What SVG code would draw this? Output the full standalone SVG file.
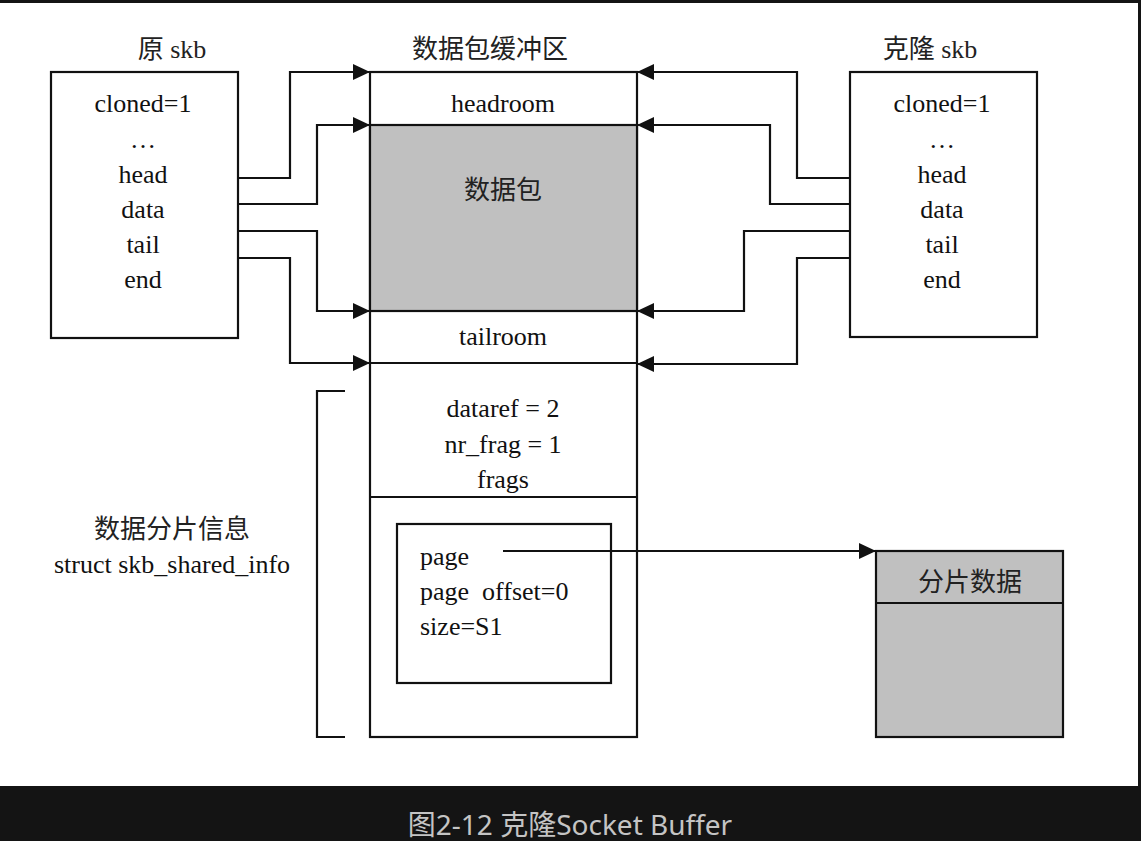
<svg xmlns="http://www.w3.org/2000/svg" width="1141" height="841" viewBox="0 0 1141 841">
  <style>
    .box { fill: #ffffff; stroke: #111; stroke-width: 2.2; }
    .gray { fill: #c0c0c0; stroke: #111; stroke-width: 2.2; }
    .ln { fill: none; stroke: #111; stroke-width: 2.2; }
    .t { font-family: "Liberation Serif", "Noto Sans CJK SC", serif; font-size: 26px; fill: #111; }
    .c { text-anchor: middle; }
    .cjk { font-family: "Liberation Serif", "Noto Sans CJK SC", sans-serif; font-size: 26px; fill: #222; }
    .cap { font-family: "Noto Sans", "Noto Sans CJK SC", sans-serif; font-size: 28px; fill: #c4c4c4; text-anchor: middle; }
  </style>
  <defs>
    <marker id="arr" markerUnits="userSpaceOnUse" markerWidth="17" markerHeight="16" refX="17" refY="8" orient="auto">
      <path d="M0,0 L17,8 L0,16 z" fill="#111"/>
    </marker>
  </defs>

  <rect x="0" y="0" width="1141" height="841" fill="#141414"/>
  <rect x="0" y="3" width="1138" height="783" fill="#ffffff"/>

  <g id="orig-skb">
    <text class="cjk c" x="172" y="58">原 skb</text>
    <rect class="box" x="51" y="72" width="187" height="266"/>
    <text class="t c" x="143" y="112">cloned=1</text>
    <text class="t c" x="143" y="148">…</text>
    <text class="t c" x="143" y="183">head</text>
    <text class="t c" x="143" y="218">data</text>
    <text class="t c" x="143" y="253">tail</text>
    <text class="t c" x="143" y="288">end</text>
  </g>

  <g id="buffer">
    <text class="cjk c" x="490" y="58">数据包缓冲区</text>
    <rect class="box" x="370" y="72" width="267" height="665"/>
    <rect class="gray" x="370" y="125" width="267" height="186"/>
    <line class="ln" x1="370" y1="363" x2="637" y2="363"/>
    <line class="ln" x1="370" y1="497" x2="637" y2="497"/>
    <text class="t c" x="503" y="112">headroom</text>
    <text class="cjk c" x="503" y="199">数据包</text>
    <text class="t c" x="503" y="345">tailroom</text>
    <text class="t c" x="503" y="417">dataref = 2</text>
    <text class="t c" x="503" y="453">nr_frag = 1</text>
    <text class="t c" x="503" y="488">frags</text>
  </g>

  <g id="frag-entry">
    <rect class="box" x="397" y="524" width="214" height="159"/>
    <text class="t" x="420" y="565">page</text>
    <text class="t" x="420" y="600" xml:space="preserve">page  offset=0</text>
    <text class="t" x="420" y="635">size=S1</text>
  </g>

  <g id="clone-skb">
    <text class="cjk c" x="930" y="58">克隆 skb</text>
    <rect class="box" x="850" y="72" width="187" height="265"/>
    <text class="t c" x="942" y="112">cloned=1</text>
    <text class="t c" x="942" y="148">…</text>
    <text class="t c" x="942" y="183">head</text>
    <text class="t c" x="942" y="218">data</text>
    <text class="t c" x="942" y="253">tail</text>
    <text class="t c" x="942" y="288">end</text>
  </g>

  <g id="shared-info-label">
    <path class="ln" d="M345,391 H317 V737 H345"/>
    <text class="cjk c" x="172" y="538">数据分片信息</text>
    <text class="t c" x="172" y="573">struct skb_shared_info</text>
  </g>

  <g id="frag-data">
    <rect class="gray" x="876" y="551" width="187" height="186"/>
    <line class="ln" x1="876" y1="603" x2="1063" y2="603"/>
    <text class="cjk c" x="970" y="591">分片数据</text>
  </g>

  <g id="connectors">
    <path class="ln" marker-end="url(#arr)" d="M238,178 H290 V72 H370"/>
    <path class="ln" marker-end="url(#arr)" d="M238,204 H317 V125 H370"/>
    <path class="ln" marker-end="url(#arr)" d="M238,231 H317 V311 H370"/>
    <path class="ln" marker-end="url(#arr)" d="M238,258 H290 V363 H370"/>
    <path class="ln" marker-end="url(#arr)" d="M850,178 H797 V72 H637"/>
    <path class="ln" marker-end="url(#arr)" d="M850,204 H770 V125 H637"/>
    <path class="ln" marker-end="url(#arr)" d="M850,231 H744 V311 H637"/>
    <path class="ln" marker-end="url(#arr)" d="M850,258 H797 V364 H637"/>
    <path class="ln" marker-end="url(#arr)" d="M503,551 H876"/>
  </g>

  <text class="cap" x="570" y="835">图2-12 克隆Socket Buffer</text>
</svg>
